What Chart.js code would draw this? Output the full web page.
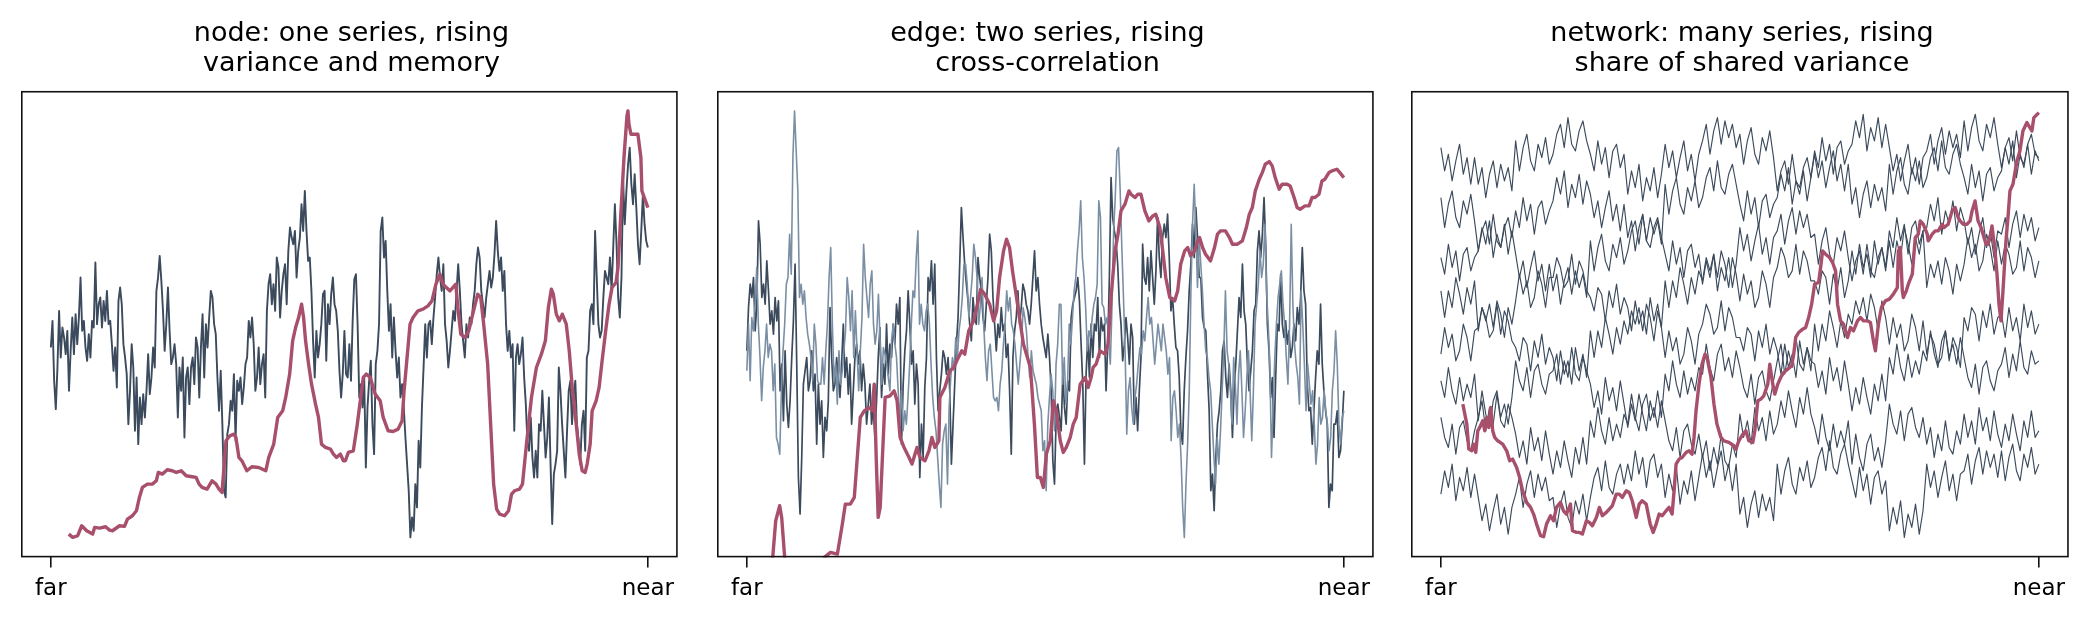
<!DOCTYPE html>
<html>
<head>
<meta charset="utf-8">
<script src="https://cdn.jsdelivr.net/npm/chart.js@4.4.1/dist/chart.umd.min.js"></script>
<style>
  html, body { margin: 0; padding: 0; background: #fff; }
  body { width: 2090px; height: 625px; position: relative; overflow: hidden; }
  canvas { position: absolute; top: 0; }
</style>
</head>
<body>
<canvas id="node" width="661" height="625" style="left:21px"></canvas>
<canvas id="edge" width="661" height="625" style="left:717px"></canvas>
<canvas id="net" width="662" height="625" style="left:1411px"></canvas>
<script>
// time runs from "far" (0) to "near" (N)
const N = 600;
const tickLabels = ["far", "near"];

const titles = [
  ["node: one series, rising", "variance and memory"],
  ["edge: two series, rising", "cross-correlation"],
  ["network: many series, rising", "share of shared variance"],
];

// panel 1: one series plus its rolling indicator
const nodeSeries = [
  63,71,53,44.5,57,74,60,69,66,61,68,50,62,72,61,73,64,72,84,68,71,63,59,67,60,71,69,88.5,
  70,76,78,69,77,71,80,70,71,64,56,63,51,77,81,76,64,60,55,40,50,64,57,38,54,34,48,40,49,42,
  50,61,49,54,63,57,80,84,90.5,83,74,62,70,81,68,58,60,64,58,42,57,50,60,36,54,57,46,57,60,52,
  66,63,48,63,73,54,70,63,72,80,78,70,67,54,44,56,40,20,18,37,40,47,44,55,35,53,50,54,46,51,
  58,60,71,66,72,64,50,54,63,52,58,61,48,74,82,85,76,82,74,90,87,72,80,85,88,76,92,99,96,94,
  98,84,92,96,106,98,110,98,89,90,80,65,54,68,60,64,70,79,80,59,76,70,79,84,76,74,68,56,48,
  55,68,55,54,
  64,53,71,83.5,85,70,48,52,45,54,27,45,53,59,40,31,58,62,70,98,102,90,95,80,68,76,60,72,62,54,
  60,48,52,45,36,28,20,6,12,8,22,15,35,27,45,57,70,60,70,71,64,72,78,85,90,84,80,88,70,65,
  57,62,68,74,71,80,88,80,70,65,60,70,66,72,70,76,80,88,93,90,80,76,72,78,82,86,81,84,91,101,
  92,86,90,80,86,70,62,68,60,64,38,60,64,58,61,66,54,46,34,32,42,30,24,32,24,40,38,50,40,30,
  36,48,28,10,25,28,32,57,50,40,32,24,38,50,53,40,48,53,40,35,28,40,44,32,60,62,74,76,70,98,
  84,70,66,68,78,86,84,82,90,80,93,106,94,78,72,84,113,100,110,118,123,112,106,115,105,94,88,98,109,100,
  95,93
];
const nodeRiseX = [
  18,22,27,31,36,42,44,49,55,59,62,69,74,77,82,86,89,92,97,102,106,108,112,117,122,126,131,136,142,146,
  149,152,157,162,166,169,172,174,176,180,184,186,189,192,197,202,209,216,219,224,228,233,236,240,243,246,249,252,254,256,
  259,262,266,269,272,276,281,284,287,291,294,296,299,304,308,311,314,317,321,326,331,334,339,344,349,353,355,358,361,364,
  369,374,379,383,387,391,394,401,404,407,409,412,416,420,424,429,432,435,439,442,445,448,451,456,460,463,466,471,474,478,
  483,488,493,497,500,503,505,508,511,514,518,521,524,528,531,534,537,539,542,544,548,551,554,558,561,564,568,570,573,576,
  579,580,581,583,586,590,593,594,600
];
const nodeRiseY = [
  7,6,6.5,9.5,8,7,9,8.8,9.2,8.2,8,9.5,9.3,11.5,12.5,14,18,21,22,22,23,25.5,25,26.3,26,25.5,26,24.5,24.2,24,
  22,21,20.5,23,22,20.5,19.5,27,35,36.5,37,36,30,29,26,27.2,27,26,30,34,42,44,48,55,65,69,72,76,72,65,
  58,52,46,42,34,33,32.5,31,30,31,29,29,31.5,32,40,47,54,55,54,49,47,42,38,37.8,38.5,41,50,60,70,72,
  74,74.5,75.5,77,82,85,82,80,81,82,75,67,66,68,73,79,78,70,58,40,22,14.5,13,12.5,14,19,20,20.5,22,34,
  48,57,61,65,75,80.5,79,73,71,73,70,62,51,40,31,26,25.5,28,34,44,47,51,59,69,76,81,82.5,87,104,120,
  132.5,134,130,127,127,127,120,110,105
];

// panel 2: two series plus their rolling correlation
const edgeSeriesA = [
  62,75,82,78,84,68,76,101,94,78,82,76,89,80,70,74,67,78,71,77,50,58,41,62,46,39,47,60,71,88,
  58,24,13,30,52,56,60,50,53,62,50,55,34,52,40,47,30,42,38,47,75,60,50,52,60,54,48,58,70,54,
  60,49,58,40,50,60,64,58,62,50,58,52,40,46,52,40,45,36,47,60,69,48,58,52,70,55,64,60,70,64,
  76,70,78,34,52,62,68,80,70,58,62,46,58,52,24,40,30,51,60,84,80,89,76,88,60,44,50,55,62,60,
  55,60,50,28,40,52,64,72,88,105,96,88,82,77,70,65,78,72,70,90,84,80,72,68,76,84,97,92,78,70,
  62,70,66,75,68,70,60,64,50,31,60,68,72,80,70,75,82,80,76,74,70,76,84,92,80,84,76,70,66,
  63,60,67,60,50,29,22,42,46,42,38,55,45,40,53,50,72,76,78,80,84,77,64,52,28,55,66,54,70,60,
  70,68,78,60,72,68,70,50,64,84,114,102,98,95,88,76,70,59,64,72,66,58,70,66,40,48,38,50,60,94,
  84,82,90,80,92,84,76,86,102,90,84,96,100,96,103,90,74,78,70,63,62,54,38,34,50,60,68,80,88,100,
  90,105,96,84,84,72,69,68,55,44,20,25,14,30,40,44,50,62,65,54,48,58,50,36,50,58,68,78,72,88,
  74,70,58,50,56,62,74,76,92,98,90,97,108,94,70,62,48,54,36,54,70,68,85,70,66,71,64,68,60,63,
  70,65,75,70,78,93,80,76,52,44,45,34,44,54,62,58,76,58,50,44,40,15,22,20,40,40,44,30,32,40,
  50
];
const edgeSeriesB = [
  56,70,53,72,68,76,87,70,60,47,57,62,70,60,64,62,50,58,36,34,31,50,62,70,82,84,97,85,120,134,
  122,110,78,82,76,80,72,67,64,60,53,70,64,53,52,52,60,52,62,70,84,93,70,53,58,46,62,52,56,62,
  68,84,78,68,80,60,74,62,50,62,72,94,84,78,72,82,86,70,64,68,79,65,52,63,61,58,54,50,65,70,
  64,60,50,42,50,38,44,40,48,58,70,80,78,90,98,70,76,70,68,74,76,70,58,48,42,38,30,22,15,34,
  38,40,22,45,54,60,56,66,60,68,72,78,88,88,82,72,78,84,94,90,84,70,76,84,70,60,53,62,64,56,
  48,47,48,44,52,56,64,70,80,74,78,70,68,64,58,52,58,64,75,72,68,60,54,62,56,54,52,48,46,44,
  32,
  35,20,40,48,55,50,38,58,64,76,76,52,60,46,52,70,64,72,80,84,92,98,107,90,84,75,62,68,66,72,
  76,78,82,107,102,76,75,70,72,65,58,75,98,108,122,123,110,93,78,62,37,50,54,45,40,48,52,58,63,61,
  68,65,72,78,70,72,65,58,64,70,66,62,70,66,62,55,60,35,48,50,44,36,40,30,15,6,22,34,50,80,
  100,112,98,81,96,88,80,70,62,60,54,50,40,30,22,36,28,38,50,62,80,62,58,50,40,60,52,40,55,62,
  50,36,44,54,62,50,35,50,70,76,82,92,84,88,100,80,70,58,30,45,60,70,78,82,86,76,70,60,52,70,
  100,76,64,58,54,46,80,70,58,44,58,52,46,50,40,28,34,48,40,42,50,44,40,32,36,50,56,68,58,40,
  34,42,44
];
const edgeRiseX = [
  20,26,29,33,35,38,41,71,78,84,91,96,99,104,108,111,114,118,123,126,128,130,132,134,137,139,144,148,151,154,
  158,163,166,171,174,179,183,186,189,193,194,199,204,208,211,216,219,223,228,231,235,239,244,248,251,254,258,261,264,267,
  270,274,278,281,285,289,292,295,298,301,305,308,311,315,318,321,325,328,331,335,340,343,346,348,351,355,360,363,366,370,
  373,376,380,384,386,390,393,396,400,404,408,411,415,418,421,425,430,433,436,440,443,446,450,453,455,458,461,466,470,473,
  476,481,485,488,493,498,502,505,508,511,515,518,521,525,528,531,535,538,543,546,550,553,556,561,565,568,571,575,578,581,
  585,588,593,596,600
];
const edgeRiseY = [
  -10,0,11,15.5,12,0,-10,-10,0,1.5,1,10,16,16,18,30,42,44,45,44,52,30,12,15,35,48,48.5,50,47,36,
  33,30,28,33,30,29,32,36,33,35,48,51,56,57,59,62,61,68,71,75,80.5,79,76,71,74,84,92,95.5,93,86,
  80,72,64,61,57,40,24,24,21,31,35,47,44,35,31.5,33,36,40,42,52,54,51,54,57,58,62,61,64,78,92,
  97,104,106,110,109,108,109,109,104,101,102.5,103,99,92,84,78,77,80,88,92,93,90.5,92,95,96,93,91,89,93,97,
  98,98,96,94,94,95,99,103,105,110,113.5,115.5,118,118.8,117.5,114,110.5,112,112,111.5,108,105,104.5,105.5,105.5,108,108,109,113,113.5,
  115.5,116,116.5,115.5,114
];

// panel 3: eight series plus the share of shared variance
const net1 = [
  123,116,121,113,119,124,115,120,112,120, 112,117,108,115,119,111,118,113,117,110,
  125,116,123,127,119,116,124,120,126,118, 121,127,130,123,132,124,122,128,131,125,
  121,116,125,118,123,114,122,124,117,121, 109,116,111,118,107,114,110,117,108,115,
  124,117,122,114,120,125,116,121,113,121, 125,130,121,128,132,124,131,126,130,123,
  127,118,125,129,121,118,126,122,128,120, 110,116,119,112,121,113,111,117,120,114,
  122,117,126,119,124,115,123,125,118,122, 124,131,126,133,122,129,125,132,123,130,
  123,116,121,113,119,124,115,120,112,120, 122,127,118,125,129,121,128,123,127,120,
  131,122,129,133,125,122,130,126,132,124, 117,123,126,119,128,120,118,124,127,121, 120
];
const net2 = [
  108,99,106,110,102,99,107,103,109,101, 92,98,101,94,103,95,93,99,102,96,
  104,99,108,101,106,97,105,107,100,104, 107,114,109,116,105,112,108,115,106,113,
  109,102,107,99,105,110,101,106,98,106, 96,101,92,99,103,95,102,97,101,94,
  112,103,110,114,106,103,111,107,113,105, 108,114,117,110,119,111,109,115,118,112,
  106,101,110,103,108,99,107,109,102,106, 108,115,110,117,106,113,109,116,107,114,
  121,114,119,111,117,122,113,118,110,118, 106,111,102,109,113,105,112,107,111,104,
  118,109,116,120,112,109,117,113,119,111, 114,120,123,116,125,117,115,121,124,118,
  114,109,118,111,116,107,115,117,110,114, 116,123,118,125,114,121,117,124,115,122, 119
];
const net3 = [
  90,85,94,87,92,83,91,93,86,90, 92,99,94,101,90,97,93,100,91,98,
  91,84,89,81,87,92,83,88,80,88, 80,85,76,83,87,79,86,81,85,78,
  95,86,93,97,89,86,94,90,96,88, 92,98,101,94,103,95,93,99,102,96,
  91,86,95,88,93,84,92,94,87,91, 82,89,84,91,80,87,83,90,81,88,
  99,92,97,89,95,100,91,96,88,96, 98,103,94,101,105,97,104,99,103,96,
  97,88,95,99,91,88,96,92,98,90, 83,89,92,85,94,86,84,90,93,87,
  98,93,102,95,100,91,99,101,94,98, 99,106,101,108,97,104,100,107,98,105,
  101,94,99,91,97,102,93,98,90,98, 97,102,93,100,104,96,103,98,102,95, 99
];
const net4 = [
  80,72,80,75,84,79,73,81,76,83, 68,75,71,76,69,77,73,66,75,70,
  77,85,79,83,75,78,86,82,75,84, 84,90,87,81,83,91,82,89,86,80,
  78,74,81,79,71,80,75,82,73,78, 75,68,77,70,74,67,78,71,76,69,
  83,75,83,78,87,82,76,84,79,86, 83,90,86,91,84,92,88,81,90,85,
  77,85,79,83,75,78,86,82,75,84, 87,93,90,84,86,94,85,92,89,83,
  83,79,86,84,76,85,80,87,78,83, 92,85,94,87,91,84,95,88,93,86,
  95,87,95,90,99,94,88,96,91,98, 81,88,84,89,82,90,86,79,88,83,
  88,96,90,94,86,89,97,93,86,95, 88,94,91,85,87,95,86,93,90,84, 89
];
const net5 = [
  61,69,63,67,59,62,70,66,59,68, 69,75,72,66,68,76,67,74,71,65,
  63,59,66,64,56,65,60,67,58,63, 60,53,62,55,59,52,63,56,61,54,
  68,60,68,63,72,67,61,69,64,71, 67,74,70,75,68,76,72,65,74,69,
  60,68,62,66,58,61,69,65,58,67, 70,76,73,67,69,77,68,75,72,66,
  66,62,69,67,59,68,63,70,61,66, 62,55,64,57,61,54,65,58,63,56,
  70,62,70,65,74,69,63,71,66,73, 70,77,73,78,71,79,75,68,77,72,
  64,72,66,70,62,65,73,69,62,71, 61,67,64,58,60,68,59,66,63,57,
  72,68,75,73,65,74,69,76,67,72, 73,66,75,68,72,65,76,69,74,67, 70
];
const net6 = [
  53,48,57,50,46,54,47,52,48,55, 41,50,43,39,47,50,42,46,40,48,
  59,53,50,57,48,56,58,52,49,55, 56,61,52,59,54,63,55,53,60,56,
  52,45,50,43,54,47,51,44,53,46, 39,46,41,49,43,38,47,42,50,42,
  55,50,59,52,48,56,49,54,50,57, 55,64,57,53,61,64,56,60,54,62,
  57,51,48,55,46,54,56,50,47,53, 59,64,55,62,57,66,58,56,63,59,
  58,51,56,49,60,53,57,50,59,52, 44,51,46,54,48,43,52,47,55,47,
  60,55,64,57,53,61,54,59,55,62, 59,68,61,57,65,68,60,64,58,66,
  60,54,51,58,49,57,59,53,50,56, 58,63,54,61,56,65,57,55,62,58, 59
];
const net7 = [
  42,36,33,40,31,39,41,35,32,38, 42,47,38,45,40,49,41,39,46,42,
  37,30,35,28,39,32,36,29,38,31, 25,32,27,35,29,24,33,28,36,28,
  41,36,45,38,34,42,35,40,36,43, 40,49,42,38,46,49,41,45,39,47,
  41,35,32,39,30,38,40,34,31,37, 30,35,26,33,28,37,29,27,34,30,
  43,36,41,34,45,38,42,35,44,37, 40,47,42,50,44,39,48,43,51,43,
  39,34,43,36,32,40,33,38,34,41, 28,37,30,26,34,37,29,33,27,35,
  46,40,37,44,35,43,45,39,36,42, 34,39,30,37,32,41,33,31,38,34,
  43,36,41,34,45,38,42,35,44,37, 33,40,35,43,37,32,41,36,44,36, 38
];
const net8 = [
  19,26,21,28,17,24,20,27,18,25, 18,11,16,8,14,19,10,15,7,15,
  19,24,15,22,26,18,25,20,24,17, 18,9,16,20,12,9,17,13,19,11,
  18,24,27,20,29,21,19,25,28,22, 28,23,32,25,30,21,29,31,24,28,
  18,25,20,27,16,23,19,26,17,24, 31,24,29,21,27,32,23,28,20,28,
  13,18,9,16,20,12,19,14,18,11, 28,19,26,30,22,19,27,23,29,21,
  24,30,33,26,35,27,25,31,34,28, 23,18,27,20,25,16,24,26,19,23,
  8,15,10,17,6,13,9,16,7,14, 28,21,26,18,24,29,20,25,17,25,
  26,31,22,29,33,25,32,27,31,24, 32,23,30,34,26,23,31,27,33,25, 28
];
const netRiseX = [
  22,26,28,31,33,35,37,39,42,44,46,48,50,52,54,57,62,66,69,72,76,79,82,86,90,93,96,100,103,106,
  110,113,116,120,123,126,130,132,136,139,142,146,149,152,156,159,162,166,169,172,176,179,182,186,189,192,196,199,202,206,
  210,213,216,219,222,226,229,232,234,236,239,242,246,249,252,254,256,259,262,265,267,271,274,277,281,284,289,294,296,299,
  303,306,309,313,315,318,321,324,328,330,333,335,338,341,344,348,352,354,356,359,363,366,369,372,375,379,381,383,386,390,
  393,396,398,401,404,408,411,414,418,421,424,428,431,434,436,439,442,446,450,454,458,459,461,463,464,467,469,473,476,479,
  481,484,488,489,493,496,499,503,505,509,513,516,519,521,524,528,531,533,536,539,542,544,547,549,551,553,556,558,560,562,
  564,567,569,571,574,578,581,584,588,591,593,595,600
];
const netRiseY = [
  46,40,32.5,32,34,31.5,38,39,41,38,42,39,45,38,36,35,34,32,29,29.5,27,24,20,16.5,15,13,10,6.5,6.2,10,
  12.5,11,15,16.5,14,13,16,8,7.5,7.5,7,11,10.5,9.5,12,15,12.5,13.5,14.5,15.5,19,19,18,20,19.5,17,12,16,17,16,
  10,7.5,10,13,12.5,14,15,13,20,28,29.5,30,31.5,32,31,36,44,52,58,61,60,54,46,40,36,35,34.5,33.5,32.5,35,
  37,38,35,34.5,38,47,47.5,48.5,52,58,52,49,52,54,55.5,56.5,57.5,61,66,67.5,68.5,69,72,76,82,82.5,87,92,
  91,90,88.5,86,76,71,70,66,69,68,71,72,71,71,70.5,65,62,70,75,77,77.5,79,81,92,93,80,78,80,82,85,
  96,97,101,100,97,95,97,98,98,100,99,100,104,105,102,101,100,100,101,104,107,101,99,97,94,94,96,99.5,92,85,
  76,71,80,95,102,110,112,119,122,128,130.5,129,128,132,133.5
];

const DARK = "#3b4a5c";
const LIGHT = "#7b8fa4";
const RED = "#a8506b";

function even(vals) {
  return vals.map((v, i) => ({ x: (i * N) / (vals.length - 1), y: v }));
}
function pairs(xs, ys) {
  return xs.map((x, i) => ({ x: x, y: ys[i] }));
}
function line(data, color, width, order) {
  return {
    data: data,
    borderColor: color,
    borderWidth: width,
    pointRadius: 0,
    tension: 0,
    fill: false,
    order: order,
    clip: 0,
    borderJoinStyle: "round",
  };
}

// matplotlib-like frame around the plot area
const frame = {
  id: "frame",
  afterDraw(chart) {
    const a = chart.chartArea;
    const c = chart.ctx;
    c.save();
    c.strokeStyle = "#111";
    c.lineWidth = 1.6;
    c.strokeRect(a.left + 0.8, a.top + 0.8, a.right - a.left - 1.6, a.bottom - a.top - 1.6);
    c.restore();
  },
};

function makeChart(id, title, datasets) {
  const ctx = document.getElementById(id).getContext("2d");
  return new Chart(ctx, {
    type: "line",
    data: { datasets: datasets },
    options: {
      responsive: false,
      devicePixelRatio: 1,
      animation: false,
      events: [],
      layout: { padding: { left: 0, right: 0, top: 0, bottom: 14 } },
      plugins: {
        legend: { display: false },
        tooltip: { enabled: false },
        title: {
          display: true,
          text: title,
          color: "#000",
          font: { family: "DejaVu Sans", size: 27, weight: "normal", lineHeight: 1.11 },
          padding: { top: 19, bottom: 12 },
        },
      },
      scales: {
        x: {
          type: "linear",
          min: -30,
          max: 630,
          afterBuildTicks: (axis) => {
            axis.ticks = [{ value: 0 }, { value: N }];
          },
          ticks: {
            autoSkip: false,
            maxRotation: 0,
            padding: 8,
            color: "#000",
            font: { family: "DejaVu Sans", size: 23 },
            callback: (v) => (v === 0 ? tickLabels[0] : tickLabels[1]),
          },
          grid: {
            drawOnChartArea: false,
            drawTicks: true,
            tickLength: 10,
            color: "#111",
            lineWidth: 1.6,
          },
          border: { display: false },
        },
        y: { display: false, min: 0, max: 140 },
      },
    },
    plugins: [frame],
  });
}

makeChart("node", titles[0], [
  line(pairs(nodeRiseX, nodeRiseY), RED, 3.4, 0),
  line(even(nodeSeries), DARK, 1.9, 1),
]);

makeChart("edge", titles[1], [
  line(pairs(edgeRiseX, edgeRiseY), RED, 3.4, 0),
  line(even(edgeSeriesB), LIGHT, 1.6, 1),
  line(even(edgeSeriesA), DARK, 1.7, 2),
]);

const netList = [net1, net2, net3, net4, net5, net6, net7, net8];
makeChart("net", titles[2], [line(pairs(netRiseX, netRiseY), RED, 3.4, 0)].concat(
  netList.map((s, k) => line(even(s), DARK, 1.15, k + 1))
));
</script>
</body>
</html>
